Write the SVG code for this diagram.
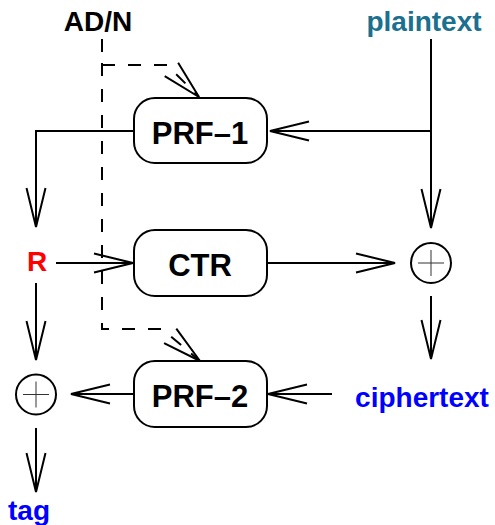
<svg xmlns="http://www.w3.org/2000/svg" width="495" height="525" viewBox="0 0 495 525">
  <style>
    .box { fill: #ffffff; stroke: #000000; stroke-width: 2; }
    .wire { fill: none; stroke: #000000; stroke-width: 2; marker-end: url(#head); }
    .dash { stroke-dasharray: 13 13; }
    .xor { fill: #ffffff; stroke: #000000; stroke-width: 2; }
    .plus { stroke: #333333; stroke-width: 1; }
    .lbl { font-family: "Liberation Sans", Arial, Helvetica, sans-serif; font-weight: bold; text-anchor: middle; }
    .fn { font-size: 31px; fill: #000000; }
    .io { font-size: 28px; }
  </style>
  <defs>
    <!-- open V arrowhead, tip at the end of the line -->
    <marker id="head" markerUnits="userSpaceOnUse" markerWidth="44" markerHeight="24" refX="40" refY="12" orient="auto" overflow="visible">
      <path d="M1,2.5 L40,12 L1,21.5" fill="none" stroke="#000000" stroke-width="2"/>
    </marker>
  </defs>

  <!-- connectors -->
  <g id="connectors">
    <path class="wire" d="M431,39 V228"/>
    <path class="wire" d="M431,131 H270"/>
    <path class="wire" d="M134,131 H36 V227"/>
    <path class="wire" d="M56,263 H133"/>
    <path class="wire" d="M267,263 H395"/>
    <path class="wire" d="M431,296 V359"/>
    <path class="wire" d="M332,394 H268"/>
    <path class="wire" d="M134,394 H71"/>
    <path class="wire" d="M36,283 V360"/>
    <path class="wire" d="M36,428 V492"/>
    <path class="wire dash" d="M102,39 V65 H167 L199,97"/>
    <path class="wire dash" d="M102,63 V329 H162 L200,361"/>
  </g>

  <!-- inputs and outputs -->
  <g id="adn"><text class="lbl io" x="98" y="31" fill="#000000">AD/N</text></g>
  <g id="plaintext"><text class="lbl io" x="424" y="31" fill="#1b6f8f">plaintext</text></g>
  <g id="ciphertext"><text class="lbl io" x="422" y="407" fill="#0000ff">ciphertext</text></g>
  <g id="tag"><text class="lbl io" x="29" y="520" fill="#0000ff">tag</text></g>
  <g id="r"><text class="lbl io" x="37" y="271" fill="#ff0000">R</text></g>

  <!-- function blocks -->
  <g id="prf1">
    <rect class="box" x="134" y="98" width="133" height="65" rx="21" ry="21"/>
    <text class="lbl fn" x="200" y="143.5">PRF–1</text>
  </g>
  <g id="ctr">
    <rect class="box" x="134" y="230" width="133" height="66" rx="21" ry="21"/>
    <text class="lbl fn" x="200" y="276">CTR</text>
  </g>
  <g id="prf2">
    <rect class="box" x="134" y="361" width="133" height="66" rx="21" ry="21"/>
    <text class="lbl fn" x="200" y="407">PRF–2</text>
  </g>

  <!-- XOR gates -->
  <g id="xor-enc">
    <circle class="xor" cx="431" cy="263" r="20"/>
    <path class="plus" d="M418,263 H444 M431,250 V276"/>
  </g>
  <g id="xor-tag">
    <circle class="xor" cx="36" cy="394.5" r="20"/>
    <path class="plus" d="M23,394.5 H49 M36,381.5 V407.5"/>
  </g>
</svg>
